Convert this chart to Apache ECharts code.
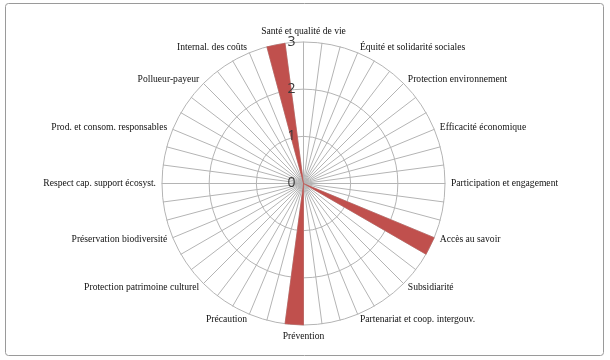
<!DOCTYPE html>
<html>
<head>
<meta charset="utf-8">
<script src="https://cdn.jsdelivr.net/npm/echarts@6/dist/echarts.min.js"></script>
<style>
  html, body { margin: 0; padding: 0; background: #fff; }
  #chart { width: 610px; height: 360px; }
</style>
</head>
<body>
<div id="chart"></div>
<script>
// 48 spokes, one label every 3rd spoke (Excel leaves the rest blank)
const categories = [
  "Santé et qualité de vie", "", "",
  "Équité et solidarité sociales", "", "",
  "Protection environnement", "", "",
  "Efficacité économique", "", "",
  "Participation et engagement", "", "",
  "Accès au savoir", "", "",
  "Subsidiarité", "", "",
  "Partenariat et coop. intergouv.", "", "",
  "Prévention", "", "",
  "Précaution", "", "",
  "Protection patrimoine culturel", "", "",
  "Préservation biodiversité", "", "",
  "Respect cap. support écosyst.", "", "",
  "Prod. et consom. responsables", "", "",
  "Pollueur-payeur", "", "",
  "Internal. des coûts", "", ""
];

const values = [
  0, 0, 0, 0, 0, 0, 0, 0, 0, 0, 0, 0,
  0, 0, 0, 3, 3, 0, 0, 0, 0, 0, 0, 0,
  3, 3, 0, 0, 0, 0, 0, 0, 0, 0, 0, 0,
  0, 0, 0, 0, 0, 0, 0, 0, 0, 0, 3, 3
];

const maxValue = 3;

// echarts radar runs counter-clockwise, Excel runs clockwise -> keep first, reverse the rest
const clockwise = (arr) => [arr[0]].concat(arr.slice(1).reverse());

const chart = echarts.init(document.getElementById("chart"));

const center = [303.5, 183.5];
const radius = 141.5;

const indicators = clockwise(categories).map((name) => ({ name: name, min: 0, max: maxValue }));

// second radar on top: same scale, only the 0..3 labels on the vertical axis
const labelIndicators = clockwise(categories).map((name, i) => {
  const ind = { name: "", min: 0, max: maxValue };
  if (i === 0) ind.axisLabel = { show: true };
  return ind;
});

const option = {
  animation: false,
  graphic: [
    {
      type: "rect",
      shape: { x: 5.5, y: 3.5, width: 598, height: 352, r: 3 },
      style: { fill: "none", stroke: "#9a9a9a", lineWidth: 1 }
    }
  ],
  radar: [
    {
      center: center,
      radius: radius,
      shape: "circle",
      splitNumber: 3,
      startAngle: 90,
      indicator: indicators,
      axisName: {
        color: "#111",
        fontFamily: "Liberation Serif",
        fontSize: 9.6
      },
      nameGap: 6,
      axisLine: { lineStyle: { color: "#b4b4b4", width: 1 } },
      splitLine: { lineStyle: { color: "#b4b4b4", width: 1 } },
      splitArea: { show: false },
      axisTick: { show: false },
      axisLabel: { show: false }
    },
    {
      z: 10,
      center: center,
      radius: radius,
      shape: "circle",
      splitNumber: 3,
      startAngle: 90,
      indicator: labelIndicators,
      axisName: { show: false },
      axisLine: { show: false },
      splitLine: { show: false },
      splitArea: { show: false },
      axisTick: { show: false },
      axisLabel: {
        show: false,
        color: "#3a3a3a",
        fontFamily: "Open Sans",
        fontSize: 14,
        margin: 8
      }
    }
  ],
  series: [
    {
      type: "radar",
      radarIndex: 0,
      symbol: "none",
      lineStyle: { color: "#c0504d", width: 0.5 },
      areaStyle: { color: "#c0504d", opacity: 1 },
      data: [{ value: clockwise(values) }]
    }
  ]
};

chart.setOption(option);
</script>
</body>
</html>
